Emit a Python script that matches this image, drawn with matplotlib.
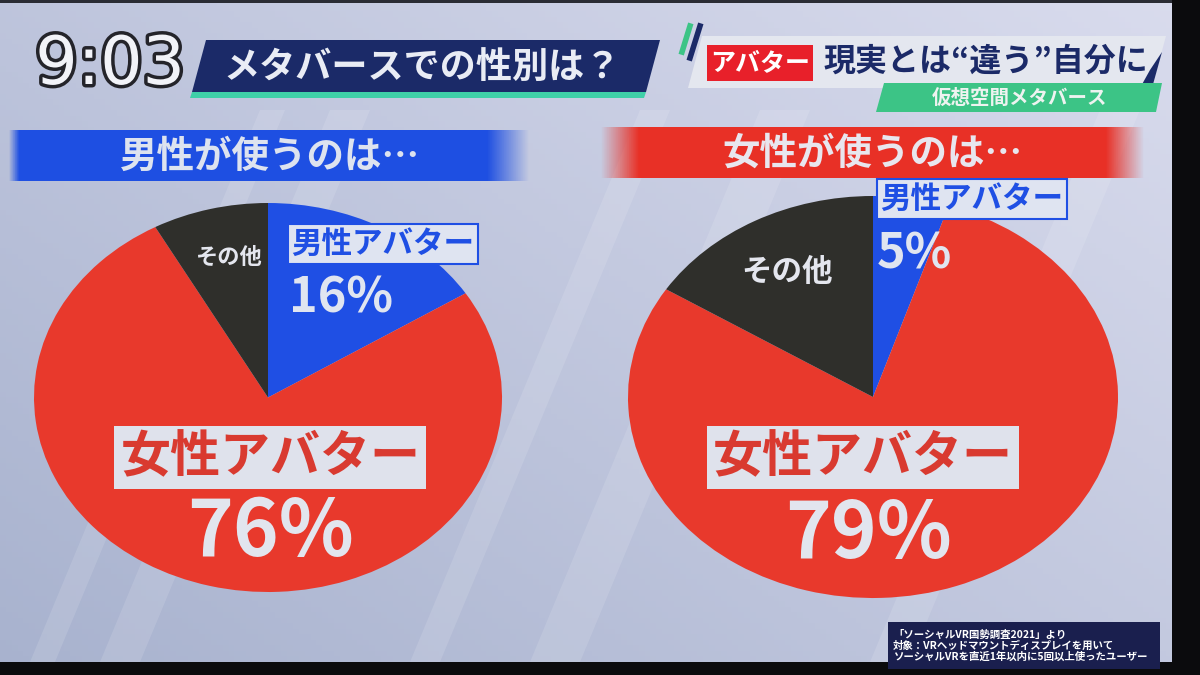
import matplotlib.pyplot as plt
import matplotlib.patheffects as pe
from matplotlib.patches import Polygon, Rectangle
import numpy as np

plt.rcParams['font.family'] = ['Noto Sans CJK JP', 'DejaVu Sans']

# データ
labels = ['男性アバター', '女性アバター', 'その他']
male_users = [16, 76, 8]      # 男性が使うのは…
female_users = [5, 79, 16]    # 女性が使うのは…
colors = ['#1f4fe4', '#e8392c', '#2f2f2b']

clock = '9:03'
title = 'メタバースでの性別は？'
tag = 'アバター'
headline = '現実とは“違う”自分に'
sub = '仮想空間メタバース'
banner_left = '男性が使うのは…'
banner_right = '女性が使うのは…'
source = ('「ソーシャルVR国勢調査2021」より\n'
          '対象：VRヘッドマウントディスプレイを用いて\n'
          'ソーシャルVRを直近1年以内に5回以上使ったユーザー')

W, H = 1200, 675
fig = plt.figure(figsize=(12, 6.75), dpi=100)
bg = fig.add_axes([0, 0, 1, 1])
bg.set_xlim(0, W)
bg.set_ylim(H, 0)
bg.axis('off')

# 背景のグラデーション
gx, gy = np.meshgrid(np.linspace(0, 1, 200), np.linspace(0, 1, 120))
t = np.clip(0.55 * gx + 0.45 * (1 - gy), 0, 1)[..., None]
c1 = np.array([0.66, 0.70, 0.81])
c2 = np.array([0.85, 0.86, 0.93])
bg.imshow(c1 + (c2 - c1) * t, extent=(0, 1172, 662, 0), aspect='auto', zorder=0)
for x0, w in [(330, 40), (260, 25), (760, 50), (640, 30), (1100, 40)]:
    bg.add_patch(Polygon([(x0, 110), (x0 + w, 110), (x0 + w - 230, 662), (x0 - 230, 662)],
                         closed=True, fc='white', alpha=0.12, lw=0, zorder=1))
# テレビの縁
bg.add_patch(Rectangle((1172, 0), 28, H, fc='#0b0b0d', lw=0, zorder=5))
bg.add_patch(Rectangle((0, 662), W, 13, fc='#0b0b0d', lw=0, zorder=5))
bg.add_patch(Rectangle((0, 0), 1172, 3, fc='#2a2c34', lw=0, zorder=5))

# ヘッダー
bg.text(110, 65, clock, fontsize=48, color='#f2f3f8', ha='center', va='center',
        family=['DejaVu Sans'], zorder=6,
        path_effects=[pe.withStroke(linewidth=5, foreground='#24242a')])
bg.add_patch(Polygon([(206, 40), (660, 40), (646, 92), (192, 92)], fc='#1b2a68', lw=0, zorder=3))
bg.add_patch(Polygon([(192, 92), (646, 92), (644, 98), (190, 98)], fc='#3fd0a8', lw=0, zorder=3))
bg.text(422, 67, title, fontsize=26, fontweight='bold', color='#e9ecf5', ha='center', va='center', zorder=6)

bg.add_patch(Polygon([(702, 36), (1166, 36), (1152, 88), (688, 88)], fc='#e4e7ef', lw=0, zorder=3))
bg.add_patch(Polygon([(1150, 70), (1162, 52), (1152, 88), (1140, 88)], fc='#1b2a68', lw=0, zorder=3))
bg.plot([690, 682], [26, 52], color='#3cc486', lw=4, zorder=4)
bg.plot([700, 690], [26, 58], color='#1b2a68', lw=4, zorder=4)
bg.add_patch(Rectangle((707, 45), 106, 36, fc='#e8202a', lw=0, zorder=4))
bg.text(760, 63, tag, fontsize=18, fontweight='bold', color='white', ha='center', va='center', zorder=6)
bg.text(986, 62, headline, fontsize=23, fontweight='bold', color='#1b2a68', ha='center', va='center', zorder=6)
bg.add_patch(Polygon([(884, 83), (1162, 83), (1156, 112), (876, 112)], fc='#3cc486', lw=0, zorder=3))
bg.text(1020, 98, sub, fontsize=14, fontweight='bold', color='#eef3f0', ha='center', va='center', zorder=6)

# 帯（フェード付き）
def banner(x0, x1, y0, y1, rgb, fade_l, fade_r):
    xs = np.linspace(0, 1, 300)
    a = np.ones_like(xs)
    if fade_l:
        a = np.minimum(a, np.clip(xs / fade_l, 0, 1))
    if fade_r:
        a = np.minimum(a, np.clip((1 - xs) / fade_r, 0, 1))
    img = np.zeros((2, 300, 4))
    img[..., :3] = rgb
    img[..., 3] = a
    bg.imshow(img, extent=(x0, x1, y1, y0), aspect='auto', zorder=3)

banner(8, 530, 130, 181, (0.12, 0.31, 0.89), 0.02, 0.08)
banner(600, 1145, 127, 178, (0.91, 0.19, 0.15), 0.07, 0.07)
bg.text(270, 156, banner_left, fontsize=27, fontweight='bold', color='#dde3ef', ha='center', va='center', zorder=6)
bg.text(872, 153, banner_right, fontsize=27, fontweight='bold', color='#e8e6ee', ha='center', va='center', zorder=6)

# 出典
bg.add_patch(Rectangle((888, 622), 272, 47, fc='#1a1f4e', lw=0, zorder=6))
bg.text(893, 646, source, fontsize=7.5, fontweight='bold', color='white', ha='left', va='center',
        linespacing=1.05, zorder=7)


def pie(rect, values, other_size, other_pos, male_pos, male_pct_pos, female_pos, female_pct_pos):
    ax = fig.add_axes([rect[0] / W, 1 - rect[3] / H, (rect[2] - rect[0]) / W, (rect[3] - rect[1]) / H])
    ax.pie(values, colors=colors, startangle=90, counterclock=False,
           wedgeprops=dict(linewidth=0))
    ax.set_xlim(-1, 1)
    ax.set_ylim(-1, 1)
    ax.set_aspect('auto')
    ax.axis('off')
    ax.text(*other_pos, labels[2], fontsize=other_size, fontweight='bold', color='#e4e6ee',
            ha='center', va='center', clip_on=False)
    ax.text(*male_pos, labels[0], fontsize=22, fontweight='bold', color='#1f4fe4',
            ha='left', va='center', clip_on=False,
            bbox=dict(boxstyle='square,pad=0.12', fc='#dfe4f1', ec='#1f4fe4', lw=1.5))
    ax.text(*male_pct_pos, f'{values[0]}%', fontsize=35, fontweight='bold', color='#e0e5f0',
            ha='left', va='center', clip_on=False)
    ax.text(*female_pos, labels[1], fontsize=36, fontweight='bold', color='#d93a30',
            ha='center', va='center', clip_on=False,
            bbox=dict(boxstyle='square,pad=0.12', fc='#dfe2ec', ec='none'))
    ax.text(*female_pct_pos, f'{values[1]}%', fontsize=56, fontweight='bold', color='#e2e5ee',
            ha='center', va='center', clip_on=False)
    return ax


pie((34, 203, 502, 592), male_users, 16, (-0.17, 0.72), (0.10, 0.79), (0.09, 0.51),
    (0.01, -0.31), (0.01, -0.70))
pie((628, 196, 1118, 598), female_users, 22, (-0.35, 0.62), (0.03, 0.985), (0.016, 0.71),
    (-0.04, -0.30), (-0.02, -0.69))

fig.savefig('out.png', dpi=100)
